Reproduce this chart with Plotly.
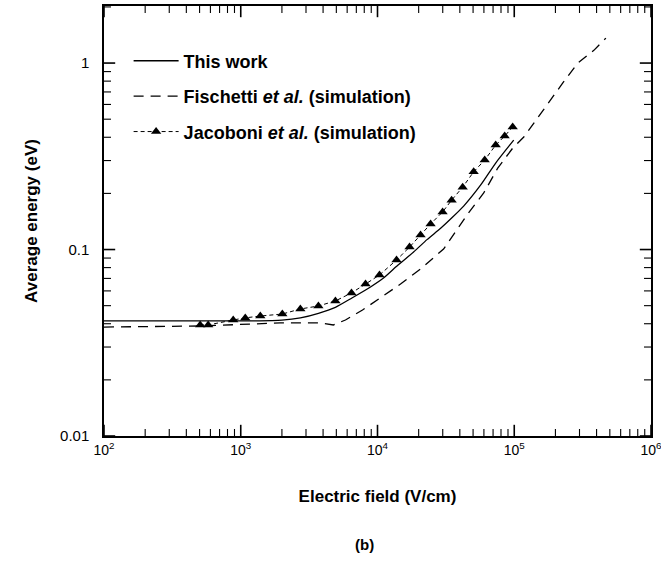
import plotly.graph_objects as go

# This work (solid line)
this_x = [100, 1175, 2000, 2730, 3700, 4920, 6500, 8890, 11070, 14000, 18360, 23000, 28950,
          35000, 42660, 56860, 73140, 99100]
this_y = [0.0414, 0.0414, 0.0418, 0.0430, 0.0455, 0.0490, 0.0550, 0.0630, 0.0703, 0.0820,
          0.0970, 0.113, 0.130, 0.148, 0.171, 0.222, 0.291, 0.386]

# Fischetti et al. (simulation) dashed
fis_x = [100, 505, 1945, 3820, 4760, 5830, 7770, 10520, 14740, 20640, 30420, 45600, 59800,
         75700, 97500, 117400, 156400, 185000, 226500, 291700, 382000, 467700]
fis_y = [0.0384, 0.0389, 0.0404, 0.0404, 0.0394, 0.0419, 0.0474, 0.0550, 0.0653, 0.0786, 0.1006,
         0.155, 0.201, 0.273, 0.350, 0.401, 0.539, 0.634, 0.782, 1.0, 1.17, 1.36]

# Jacoboni et al. (simulation) triangles
jac_x = [505, 578, 881, 1079, 1390, 2014, 2729, 3697, 4924, 6451, 8175, 10340, 13780, 17150,
         20640, 24440, 29920, 34830, 41960, 50480, 60810, 73140, 85110, 97400]
jac_y = [0.0394, 0.0394, 0.0419, 0.0430, 0.0440, 0.0451, 0.0480, 0.0498, 0.0530, 0.0585, 0.0653,
         0.0730, 0.0879, 0.1031, 0.1196, 0.1370, 0.159, 0.184, 0.216, 0.261, 0.302, 0.363, 0.406, 0.454]

x_tickvals = [1e2, 1e3, 1e4, 1e5, 1e6]
x_ticktext = ["10<sup>2</sup>", "10<sup>3</sup>", "10<sup>4</sup>", "10<sup>5</sup>", "10<sup>6</sup>"]
y_tickvals = [0.01, 0.1, 1]
y_ticktext = ["0.01", "0.1", "1"]

x_minor = [m * d for d in [1e2, 1e3, 1e4, 1e5] for m in range(2, 10)]
y_minor = [m * d for d in [0.01, 0.1, 1] for m in range(2, 10) if m * d <= 2.02]

X_RANGE = [2, 6]
Y_RANGE = [-2, 0.306]

FONT = "Liberation Sans, Arial, sans-serif"

fig = go.Figure()
fig.add_trace(go.Scatter(x=this_x, y=this_y, mode="lines", name="<b>This work</b>",
                         legendgroup="a", line=dict(color="black", width=1.3, shape="spline", smoothing=0.6)))
fig.add_trace(go.Scatter(x=fis_x, y=fis_y, mode="lines",
                         name="<b>Fischetti <i>et al.</i> (simulation)</b>",
                         legendgroup="b", line=dict(color="black", width=1.3, dash="10px,7px")))
fig.add_trace(go.Scatter(x=jac_x, y=jac_y, mode="lines+markers",
                         name="<b>Jacoboni <i>et al.</i> (simulation)</b>",
                         legendgroup="c",
                         line=dict(color="black", width=1, dash="4px,3px"),
                         marker=dict(symbol="triangle-up", size=9, color="black")))

# Inward tick marks on all four sides: tick symbols centred on the frame, clipped to the plot area
x_lo, x_hi = 10 ** X_RANGE[0], 10 ** X_RANGE[1]
y_lo, y_hi = 10 ** Y_RANGE[0], 10 ** Y_RANGE[1]


def add_ticks(xs, ys, symbol, size, width):
    fig.add_trace(go.Scatter(x=xs, y=ys, mode="markers", showlegend=False, hoverinfo="skip",
                             cliponaxis=True,
                             marker=dict(symbol=symbol, size=size, color="black",
                                         line=dict(color="black", width=width))))


for edge_y in (y_lo, y_hi):
    add_ticks(x_tickvals, [edge_y] * len(x_tickvals), "line-ns", 16, 1.6)
    add_ticks(x_minor, [edge_y] * len(x_minor), "line-ns", 10, 1.1)
for edge_x in (x_lo, x_hi):
    add_ticks([edge_x] * len(y_tickvals), y_tickvals, "line-ew", 16, 1.6)
    add_ticks([edge_x] * len(y_minor), y_minor, "line-ew", 10, 1.1)

axis_common = dict(showline=True, linecolor="black", linewidth=1.5, mirror=True,
                   ticks="", showgrid=False, ticklabeloverflow="allow", automargin=False)

fig.update_xaxes(type="log", range=X_RANGE, tickvals=x_tickvals, ticktext=x_ticktext,
                 tickfont=dict(family=FONT, size=14, color="black"),
                 title=dict(text="<b>Electric field (V/cm)</b>", standoff=34,
                            font=dict(family=FONT, size=17, color="black")),
                 **axis_common)
fig.update_yaxes(type="log", range=Y_RANGE, tickvals=y_tickvals, ticktext=y_ticktext,
                 tickfont=dict(family=FONT, size=15, color="black"), ticklabelstandoff=10,
                 title=dict(text="<b>Average energy (eV)</b>", standoff=18,
                            font=dict(family=FONT, size=17, color="black")),
                 **axis_common)

fig.add_annotation(text="<b>(b)</b>", xref="paper", yref="paper", x=0.477, y=-0.253,
                   showarrow=False, font=dict(family=FONT, size=15, color="black"),
                   yanchor="middle", xanchor="center")

fig.update_layout(
    width=661, height=563, margin=dict(l=104, r=10, t=6, b=127),
    paper_bgcolor="white", plot_bgcolor="white",
    font=dict(family=FONT, color="black"),
    legend=dict(x=0.045, y=0.915, xanchor="left", yanchor="top", bgcolor="rgba(0,0,0,0)",
                font=dict(family=FONT, size=18, color="black"), itemwidth=45,
                tracegroupgap=9, traceorder="grouped"),
)

fig.write_html("out.html")
